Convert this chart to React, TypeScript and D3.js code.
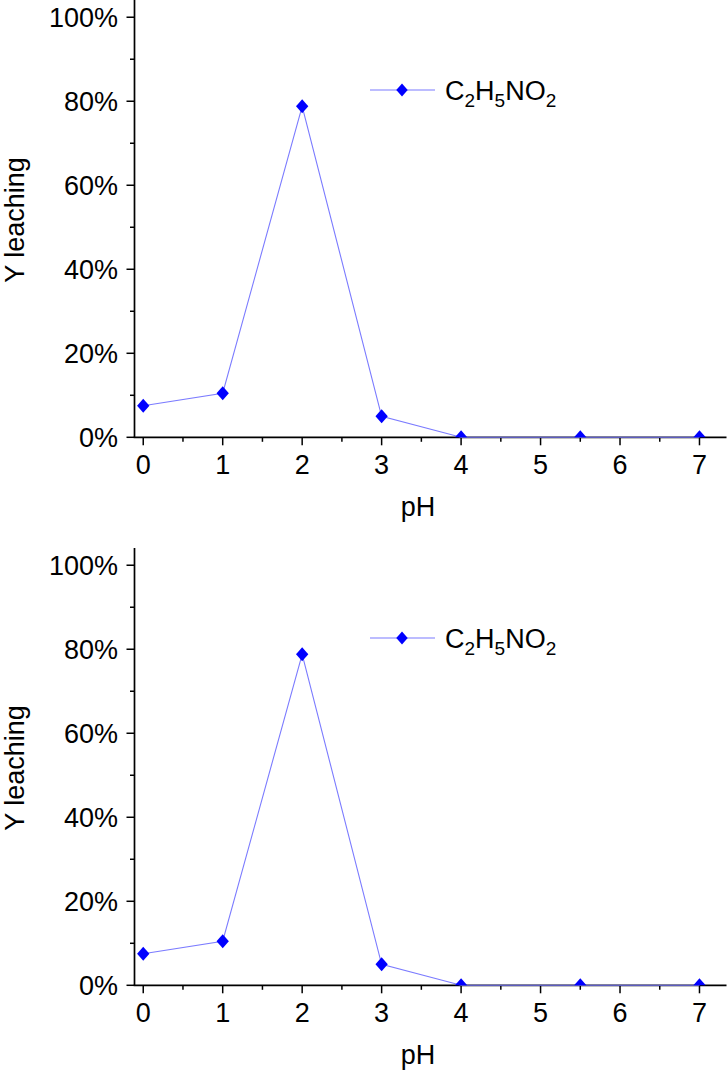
import * as d3 from "d3";

const phValues = [0, 1, 2, 3, 4, 5.5, 7];
const leaching = [0.075, 0.105, 0.788, 0.05, 0, 0, 0];
const xTicks = [0, 1, 2, 3, 4, 5, 6, 7];
const yTicks = [0, 0.2, 0.4, 0.6, 0.8, 1.0];
const seriesName = ["C", "2", "H", "5", "NO", "2"];

const W = 727;
const PANEL_H = 548;
const FONT = "Arial, 'Liberation Sans', sans-serif";
const LINE = "#7b7bff";
const MARK = "#0000ff";

const x = d3.scaleLinear().domain([-0.11, 7.34]).range([134.5, 726.5]);
const y = d3.scaleLinear().domain([0, 1.041]).range([437.3, 0]);

function Panel({ top, id }: { top: number; id: string }) {
  const line = d3
    .line<number>()
    .x((_, i) => x(phValues[i]))
    .y((d) => y(d));
  const minorX = d3.range(0, 7.01, 0.5).filter((v) => !Number.isInteger(v));
  const minorY = d3.range(0.1, 1.0, 0.2);
  const diamond = (cx: number, cy: number, r = 7) =>
    `M${cx},${cy - r}L${cx + r * 0.88},${cy}L${cx},${cy + r}L${cx - r * 0.88},${cy}Z`;
  const [x0, x1] = x.range();
  const [y0, y1] = y.range();

  return (
    <g transform={`translate(0,${top})`}>
      <defs>
        <clipPath id={id}>
          <rect x={x0} y={y1} width={x1 - x0} height={y0 - y1} />
        </clipPath>
      </defs>
      {/* axes */}
      <line x1={x0} x2={x0} y1={y1} y2={y0} stroke="#000" strokeWidth={1.7} />
      <line x1={x0 - 0.8} x2={x1} y1={y0} y2={y0} stroke="#000" strokeWidth={1.7} />
      {yTicks.map((t) => (
        <g key={"y" + t}>
          <line x1={x0 - 8} x2={x0} y1={y(t)} y2={y(t)} stroke="#000" strokeWidth={1.5} />
          <text x={118} y={y(t)} dy="0.36em" textAnchor="end" fontSize={27} fontFamily={FONT}>
            {d3.format(".0%")(t)}
          </text>
        </g>
      ))}
      {minorY.map((t) => (
        <line key={"my" + t} x1={x0 - 4.5} x2={x0} y1={y(t)} y2={y(t)} stroke="#000" strokeWidth={1.5} />
      ))}
      {xTicks.map((t) => (
        <g key={"x" + t}>
          <line x1={x(t)} x2={x(t)} y1={y0} y2={y0 + 8} stroke="#000" strokeWidth={1.5} />
          <text x={x(t)} y={473.5} textAnchor="middle" fontSize={27} fontFamily={FONT}>
            {t}
          </text>
        </g>
      ))}
      {minorX.map((t) => (
        <line key={"mx" + t} x1={x(t)} x2={x(t)} y1={y0} y2={y0 + 4.5} stroke="#000" strokeWidth={1.5} />
      ))}
      <text x={418} y={516} textAnchor="middle" fontSize={27} fontFamily={FONT}>
        pH
      </text>
      <text
        transform={`translate(24,220) rotate(-90)`}
        textAnchor="middle"
        fontSize={27}
        fontFamily={FONT}
      >
        Y leaching
      </text>
      {/* series */}
      <path d={line(leaching) ?? ""} fill="none" stroke={LINE} strokeWidth={1.1} />
      <g clipPath={`url(#${id})`}>
        {leaching.map((v, i) => (
          <path key={i} d={diamond(x(phValues[i]), y(v))} fill={MARK} />
        ))}
      </g>
      {/* legend */}
      <line x1={370} x2={435} y1={90} y2={90} stroke={LINE} strokeWidth={1.1} />
      <path d={diamond(402, 90, 6.5)} fill={MARK} />
      <text x={445} y={99.5} fontSize={27} fontFamily={FONT}>
        {seriesName.map((s, i) =>
          i % 2 === 1 ? (
            <tspan key={i} fontSize={19} dy={7}>
              {s}
            </tspan>
          ) : (
            <tspan key={i} dy={i === 0 ? 0 : -7}>
              {s}
            </tspan>
          )
        )}
      </text>
    </g>
  );
}

export default function App() {
  return (
    <svg
      width={W}
      height={1072}
      style={{ position: "absolute", left: 0, top: 0, background: "#fff" }}
    >
      <Panel top={0} id="clipA" />
      <Panel top={PANEL_H} id="clipB" />
    </svg>
  );
}
